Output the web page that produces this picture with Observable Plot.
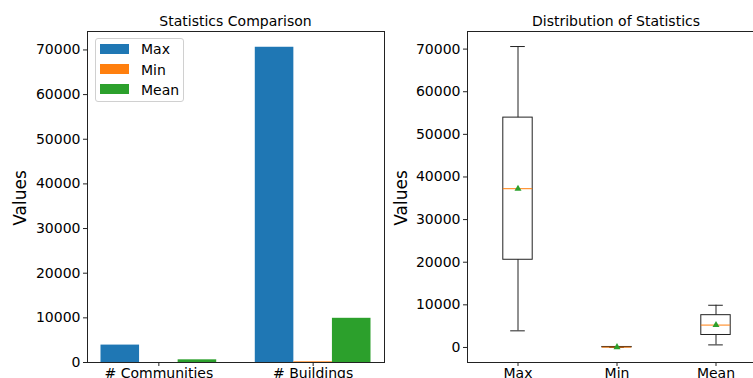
<!DOCTYPE html>
<html><head><meta charset="utf-8">
<script src="https://cdn.jsdelivr.net/npm/d3@7"></script>
<script src="https://cdn.jsdelivr.net/npm/@observablehq/plot@0.6"></script>
<style>
html,body{margin:0;padding:0;background:#fff;}
body{width:753px;height:378px;overflow:hidden;position:relative;font-family:"DejaVu Sans",sans-serif;color:#000;}
.abs{position:absolute;}
.chart{position:absolute;top:0;height:378px;}
.chart svg{display:block;max-width:none !important;}
.title{font-size:14px;transform:translateX(-50%);white-space:nowrap;line-height:14px;}
.ylab{font-size:17px;transform:translate(-50%,-50%) rotate(-90deg);white-space:nowrap;line-height:17px;}
#legend{left:95px;top:38px;width:87px;height:62px;border:1px solid #d0d0d0;border-radius:3px;background:rgba(255,255,255,0.8);}
.sw{position:absolute;left:4px;width:29px;height:10px;}
.lt{position:absolute;left:45px;font-size:14px;line-height:14px;white-space:nowrap;}
</style></head><body>
<div id="right" class="chart" style="left:380px;width:386px;"></div>
<div id="left" class="chart" style="left:0;width:390px;"></div>
<div class="abs title" style="left:235.5px;top:14px;">Statistics Comparison</div>
<div class="abs title" style="left:616px;top:14px;">Distribution of Statistics</div>
<div class="abs ylab" style="left:20px;top:198px;">Values</div>
<div class="abs ylab" style="left:401px;top:198px;">Values</div>
<div id="legend" class="abs"></div>
<script>
// ---- data ----
const categories = ["# Communities", "# Buildings"];
const statNames = ["Max", "Min", "Mean"];
const maxValues = [3900, 70600];
const minValues = [1, 150];
const meanValues = [600, 9900];
const colors = ["#1f77b4", "#ff7f0e", "#2ca02c"];

const series = [maxValues, minValues, meanValues];
const barWidth = 0.25;
const barData = [];
categories.forEach((c, ci) => statNames.forEach((s, si) => barData.push({ci, si, stat: s, value: series[si][ci]})));

const boxRows = statNames.map((s, i) => {
  const v = series[i].slice().sort(d3.ascending);
  return {stat: s, min: d3.min(v), q1: d3.quantile(v, 0.25), med: d3.median(v), q3: d3.quantile(v, 0.75), max: d3.max(v), mean: d3.mean(v)};
});

const allVals = series.flat();
const lo = d3.min(allVals), hi = d3.max(allVals);
const leftDomain = [0, hi * 1.05];
const rightDomain = [lo - 0.05 * (hi - lo), hi + 0.05 * (hi - lo)];
const xSpan = [-1.5 * barWidth, categories.length - 1 + 1.5 * barWidth];
const xPad = 0.05 * (xSpan[1] - xSpan[0]);
const leftXDomain = [xSpan[0] - xPad, xSpan[1] + xPad];

const baseStyle = {fontFamily: "DejaVu Sans", fontSize: "14px", color: "black", background: "transparent", overflow: "visible", maxWidth: "none"};
const frameColor = "#222";

// ---- left: grouped bars ----
const L = {width: 390, height: 378, ml: 87, mr: 6, mt: 31, mb: 16};
const left = Plot.plot({
  width: L.width, height: L.height,
  marginLeft: L.ml, marginRight: L.mr, marginTop: L.mt, marginBottom: L.mb,
  style: baseStyle,
  x: {domain: leftXDomain, range: [L.ml, L.width - L.mr]},
  y: {domain: leftDomain, range: [L.height - L.mb, L.mt]},
  color: {domain: statNames, range: colors},
  marks: [
    Plot.rectY(barData, {
      x1: d => d.ci + (d.si - 1.5) * barWidth,
      x2: d => d.ci + (d.si - 0.5) * barWidth,
      y: "value", fill: "stat"
    }),
    Plot.axisX(d3.range(categories.length), {tickFormat: i => categories[i], tickSize: 4, tickPadding: 2, fontSize: 14, label: null, stroke: frameColor, fill: "black"}),
    Plot.axisY({ticks: 8, tickFormat: d3.format("d"), tickSize: 4, tickPadding: 3, fontSize: 14, label: null, stroke: frameColor, fill: "black"}),
    Plot.frame({stroke: frameColor})
  ]
});
document.getElementById("left").appendChild(left);

// ---- legend ----
const leg = document.getElementById("legend");
statNames.forEach((s, i) => {
  const sw = document.createElement("div");
  sw.className = "sw"; sw.style.top = (4.7 + i * 20.3) + "px"; sw.style.background = colors[i];
  const t = document.createElement("div");
  t.className = "lt"; t.style.top = (3.3 + i * 20.3) + "px"; t.textContent = s;
  leg.appendChild(sw); leg.appendChild(t);
});

// ---- right: box plots ----
const R = {width: 386, height: 378, ml: 87, mr: 1, mt: 31, mb: 16};
const boxInset = 34.8, capInset = 42.2;
const right = Plot.plot({
  width: R.width, height: R.height,
  marginLeft: R.ml, marginRight: R.mr, marginTop: R.mt, marginBottom: R.mb,
  style: baseStyle,
  x: {domain: statNames, padding: 0, range: [R.ml, R.width - R.mr]},
  y: {domain: rightDomain, range: [R.height - R.mb, R.mt]},
  marks: [
    Plot.barY(boxRows, {x: "stat", y1: "q1", y2: "q3", fill: "none", stroke: frameColor, strokeWidth: 1, insetLeft: boxInset, insetRight: boxInset}),
    Plot.ruleX(boxRows, {x: "stat", y1: "q3", y2: "max", stroke: frameColor}),
    Plot.ruleX(boxRows, {x: "stat", y1: "min", y2: "q1", stroke: frameColor}),
    Plot.tickY(boxRows, {x: "stat", y: "max", stroke: frameColor, insetLeft: capInset, insetRight: capInset}),
    Plot.tickY(boxRows, {x: "stat", y: "min", stroke: frameColor, insetLeft: capInset, insetRight: capInset}),
    Plot.tickY(boxRows, {x: "stat", y: "med", stroke: "#ff7f0e", insetLeft: boxInset, insetRight: boxInset}),
    Plot.dot(boxRows, {x: "stat", y: "mean", symbol: "triangle", fill: "#2ca02c", stroke: "none", r: 2.6}),
    Plot.axisX({tickSize: 4, tickPadding: 2, fontSize: 14, label: null, stroke: frameColor, fill: "black"}),
    Plot.axisY({ticks: 8, tickFormat: d3.format("d"), tickSize: 4, tickPadding: 3, fontSize: 14, label: null, stroke: frameColor, fill: "black"}),
    Plot.frame({stroke: frameColor})
  ]
});
document.getElementById("right").appendChild(right);
</script>
</body></html>
